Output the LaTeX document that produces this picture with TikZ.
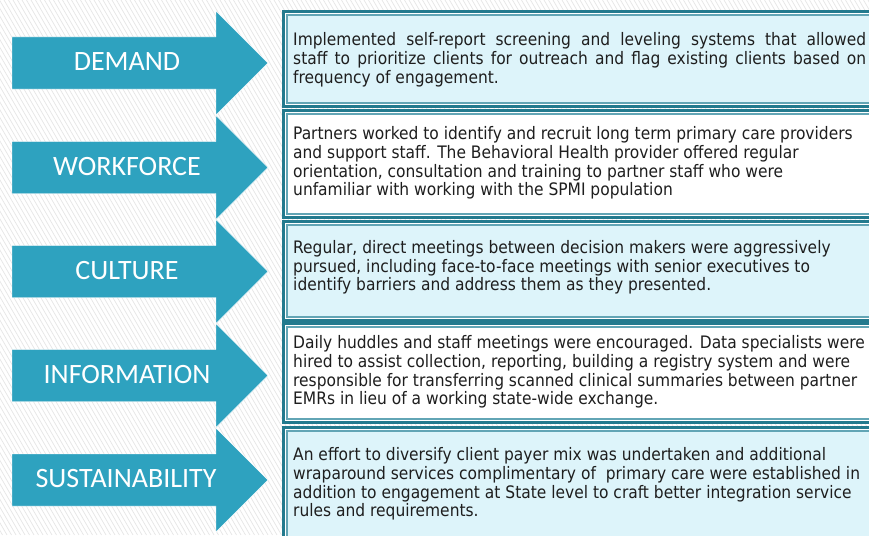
\documentclass[tikz,border=0pt]{standalone}
\usepackage{fontspec}
\setmainfont{DejaVu Sans Condensed}
\newfontfamily\labelfont{Carlito}
\definecolor{arrowblue}{HTML}{2EA2BF}
\definecolor{frameout}{HTML}{237A8E}
\definecolor{framein}{HTML}{62A5B5}
\definecolor{paleblue}{HTML}{DDF4FA}
\definecolor{hatch}{HTML}{E6E6E6}
\definecolor{bodytext}{HTML}{1E1E1E}

\tikzset{
  stripe/.style={draw=hatch, line width=0.7pt},
  bigarrow/.style={fill=arrowblue, draw=white, line width=0.4pt},
  arrowlabel/.style={text=white, font=\labelfont\fontsize{28}{30}\selectfont, anchor=center, inner sep=0pt},
  framebox/.style={draw=frameout, line width=3pt},
  innerframe/.style={draw=framein, line width=1.6pt},
  % anchored at the baseline of the last line
  bodytextstyle/.style={text=bodytext, font=\fontsize{17.2}{18.8}\selectfont, align=left, anchor=base west, inner sep=0pt},
}

% one frame from #1 to #2, filled with #3
\newcommand{\rowframe}[3]{%
  \fill[white] (282,#1) rectangle (900,#2);
  \fill[#3] (287,{#1+5}) rectangle (900,{#2-5});
  \draw[innerframe] (287,{#1+5}) rectangle (900,{#2-5});
  \draw[framebox] (283.5,{#1+1.5}) rectangle (900,{#2-1.5});
}
% one arrow centred at height #1
\newcommand{\rowarrow}[1]{%
  \path[bigarrow] (12,{#1-26}) -- (216,{#1-26}) -- (216,{#1-52}) -- (268,#1)
    -- (216,{#1+52}) -- (216,{#1+26}) -- (12,{#1+26}) -- cycle;
}

\begin{document}
\begin{tikzpicture}[x=1pt,y=-1pt]
\useasboundingbox (0,0) rectangle (869,535);
\clip (0,0) rectangle (869,535);

% hatched backdrop
\fill[white] (0,0) rectangle (869,535);
\foreach \s in {-320,-315.5,...,870} {
  \draw[stripe] (\s,0) -- ++(309,535);
}

% text frames
\rowframe{10}{108}{paleblue}
\rowframe{109}{219}{white}
\rowframe{220}{322}{paleblue}
\rowframe{322}{424}{white}
\rowframe{426}{545}{paleblue}

% arrows
\rowarrow{63}
\rowarrow{167.5}
\rowarrow{271.5}
\rowarrow{375.5}
\rowarrow{480}

\node[arrowlabel] (demand) at (127,62) {DEMAND};
\node[arrowlabel] (workforce) at (127,166.5) {WORKFORCE};
\node[arrowlabel] (culture) at (127,270.5) {CULTURE};
\node[arrowlabel] (information) at (127,374.5) {INFORMATION};
\node[arrowlabel] (sustainability) at (126,479) {SUSTAINABILITY};

% descriptions
\node[bodytextstyle] (tdemand) at (293,83.3) {%
  \makebox[573pt][s]{Implemented self-report screening and leveling systems that allowed}\\
  \makebox[573pt][s]{staff to prioritize clients for outreach and flag existing clients based on}\\
  frequency of engagement.};

\node[bodytextstyle] (tworkforce) at (293,195.9) {%
  Partners worked to identify and recruit long term primary care providers\\
  and support staff. The Behavioral Health provider offered regular\\
  orientation, consultation and training to partner staff who were\\
  unfamiliar with working with the SPMI population};

\node[bodytextstyle] (tculture) at (293,290.9) {%
  Regular, direct meetings between decision makers were aggressively\\
  pursued, including face-to-face meetings with senior executives to\\
  identify barriers and address them as they presented.};

\node[bodytextstyle] (tinformation) at (293,404.9) {%
  Daily huddles and staff meetings were encouraged. Data specialists were\\
  hired to assist collection, reporting, building a registry system and were\\
  responsible for transferring scanned clinical summaries between partner\\
  EMRs in lieu of a working state-wide exchange.};

\node[bodytextstyle] (tsustainability) at (293,516.9) {%
  An effort to diversify client payer mix was undertaken and additional\\
  wraparound services complimentary of\ \ primary care were established in\\
  addition to engagement at State level to craft better integration service\\
  rules and requirements.};
\end{tikzpicture}
\end{document}
